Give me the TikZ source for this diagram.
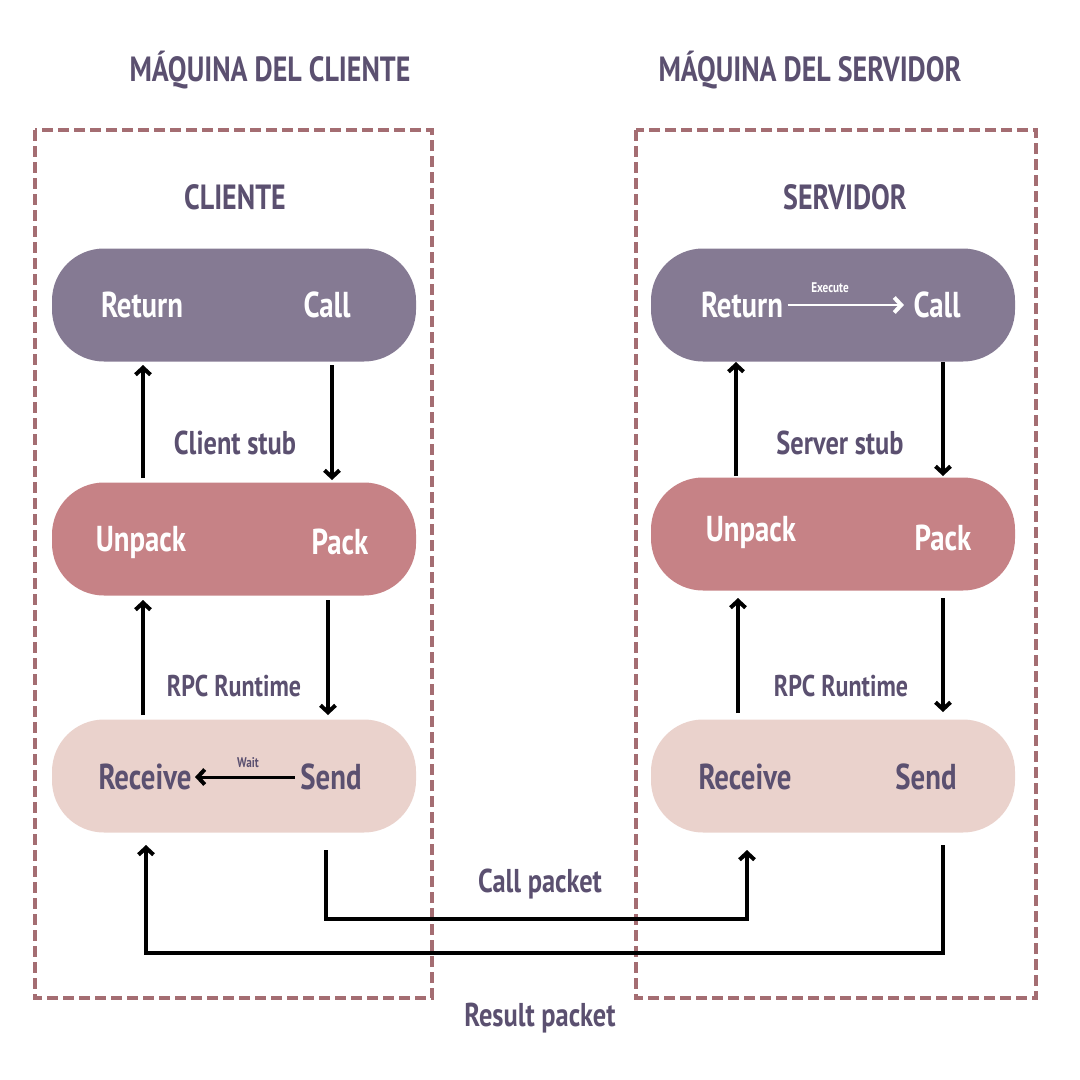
\documentclass[tikz,border=0pt]{standalone}
\usepackage{fontspec}
\setmainfont{PT Sans}[FakeStretch=0.8]
\usetikzlibrary{arrows.meta}
\definecolor{ink}{HTML}{5B5070}
\definecolor{appbox}{HTML}{857A93}
\definecolor{stubbox}{HTML}{C68286}
\definecolor{runbox}{HTML}{EAD2CC}
\definecolor{machine}{HTML}{A46D72}
\begin{document}
\begin{tikzpicture}[x=1pt, y=-1pt,
  box/.style = {rectangle, rounded corners=52pt, minimum width=364pt, minimum height=113pt},
  word/.style = {font=\bfseries\fontsize{36}{40}\selectfont},
  title/.style = {font=\bfseries\fontsize{35}{38}\selectfont, text=ink},
  lbl/.style = {font=\bfseries\fontsize{33}{36}\selectfont, text=ink},
  small/.style = {font=\bfseries\fontsize{30}{34}\selectfont, text=ink},
  tiny/.style = {font=\bfseries\fontsize{14}{16}\selectfont},
  flow/.style = {line width=4pt, -{Straight Barb[length=7pt, width=15pt, line width=4pt]}},
  mach/.style = {draw=machine, line width=3.4pt, dash pattern=on 11pt off 5pt}]
\useasboundingbox (0,0) rectangle (1080,1080);
% machines
\draw[mach] (35,130) rectangle (432,998);
\draw[mach] (636,130) rectangle (1036,998);
\node[title] (mc) at (270,70) {MÁQUINA DEL CLIENTE};
\node[title] (ms) at (810,70) {MÁQUINA DEL SERVIDOR};
\node[title] (tc) at (235,197) {CLIENTE};
\node[title] (ts) at (845,197) {SERVIDOR};
% client side
\node[box, fill=appbox] (capp) at (234,305) {};
\node[box, fill=stubbox] (cstub) at (234,539) {};
\node[box, fill=runbox] (crun) at (234,776) {};
\node[word, text=white] (cret) at (142,305) {Return};
\node[word, text=white] (ccall) at (327,305) {Call};
\node[word, text=white] (cunp) at (141,542) {Unpack};
\node[word, text=white] (cpack) at (340,542) {Pack};
\node[word, text=ink] (crecv) at (145,777) {Receive};
\node[word, text=ink] (csend) at (331,777) {Send};
\node[lbl] (cstubl) at (235,443) {Client stub};
\node[small] (crunl) at (234,686) {RPC Runtime};
\node[tiny, text=ink] (wait) at (248,763) {Wait};
% server side
\node[box, fill=appbox] (sapp) at (833,305) {};
\node[box, fill=stubbox] (sstub) at (833,534) {};
\node[box, fill=runbox] (srun) at (833,776) {};
\node[word, text=white] (sret) at (742,305) {Return};
\node[word, text=white] (scall) at (937,305) {Call};
\node[word, text=white] (sunp) at (751,532) {Unpack};
\node[word, text=white] (spack) at (943,538) {Pack};
\node[word, text=ink] (srecv) at (745,777) {Receive};
\node[word, text=ink] (ssend) at (926,777) {Send};
\node[lbl] (sstubl) at (840,443) {Server stub};
\node[small] (srunl) at (841,686) {RPC Runtime};
\node[tiny, text=white] (exec) at (830,288) {Execute};
% packets
\node[lbl] (callp) at (540,884) {Call packet};
\node[lbl] (resp) at (540,1018) {Result packet};
\coordinate (cp1) at (326,919);
\coordinate (cp2) at (747,919);
\coordinate (rp1) at (943,953);
\coordinate (rp2) at (146,953);
% arrows
\draw[flow] (143,478) -- (143,365);
\draw[flow] (332,365) -- (332,480);
\draw[flow] (143,715) -- (143,600);
\draw[flow] (328,600) -- (328,715);
\draw[flow] (736,476) -- (736,362);
\draw[flow] (943,362) -- (943,476);
\draw[flow] (738,713) -- (738,598);
\draw[flow] (943,598) -- (943,712);
\draw[flow, line width=3pt, shorten <=2pt] (csend.west) -- (crecv.east);
\draw[flow, white, line width=2.6pt, shorten <=1pt, shorten >=6pt] (sret.east) -- (scall.west);
\draw[flow] (326,850) -- (cp1) -- (cp2) -- (747,850);
\draw[flow] (943,845) -- (rp1) -- (rp2) -- (146,845);
\end{tikzpicture}
\end{document}
